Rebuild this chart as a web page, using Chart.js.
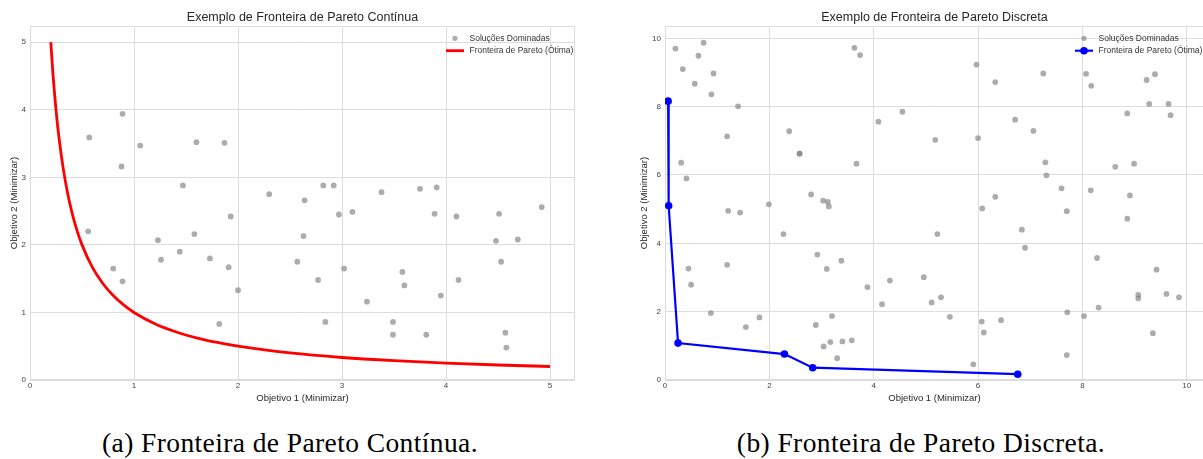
<!DOCTYPE html>
<html>
<head>
<meta charset="utf-8">
<title>Fronteira de Pareto</title>
<script src="https://cdn.jsdelivr.net/npm/chart.js@4.4.1/dist/chart.umd.min.js"></script>
<style>
  html, body { margin: 0; padding: 0; background: #fff; }
  #page { position: relative; width: 1203px; height: 459px; overflow: hidden; }
  .box { position: absolute; top: 0; }
  .caption {
    position: absolute; top: 430px; width: 600px;
    font-family: "Liberation Serif", "Times New Roman", serif;
    font-size: 27.5px; line-height: 26px; letter-spacing: 0.4px; color: #000;
    text-align: center; white-space: nowrap;
  }
</style>
</head>
<body>
<div id="page">
  <div class="box" style="left:0px"><canvas id="contChart" width="600" height="410"></canvas></div>
  <div class="box" style="left:633px"><canvas id="discChart" width="572" height="410"></canvas></div>
  <div class="caption" style="left:-10px">(a) Fronteira de Pareto Contínua.</div>
  <div class="caption" style="left:621px">(b) Fronteira de Pareto Discreta.</div>
</div>
<script>
// (a) fronteira continua
var domX1 = [0.57, 0.89, 0.88, 1.06, 1.47, 1.60, 1.87, 2.30, 0.56, 1.23,
             1.26, 1.44, 1.58, 1.73, 1.93, 1.91, 2.00, 1.82, 0.80, 0.89,
             2.57, 2.64, 2.63, 2.97, 3.10, 3.38, 3.89, 4.10, 4.51, 4.92,
             4.48, 4.69, 2.77, 3.02, 3.58, 3.60, 3.24, 3.95, 4.12, 4.53,
             2.84, 3.49, 3.49, 3.81, 4.57, 4.58, 2.82, 2.92, 3.75, 3.91];
var domY1 = [3.59, 3.94, 3.16, 3.47, 2.88, 3.52, 3.51, 2.75, 2.20, 2.07,
             1.78, 1.90, 2.16, 1.80, 2.42, 1.67, 1.33, 0.83, 1.65, 1.46,
             1.75, 2.66, 2.13, 2.45, 2.49, 2.78, 2.46, 2.42, 2.46, 2.56,
             2.06, 2.08, 1.48, 1.65, 1.60, 1.40, 1.16, 1.25, 1.48, 1.75,
             0.86, 0.86, 0.67, 0.67, 0.70, 0.48, 2.88, 2.88, 2.83, 2.85];
var curveX = [0.20, 0.22, 0.25, 0.28, 0.32, 0.36, 0.40, 0.45, 0.50, 0.60, 0.70, 0.80, 0.90,
              1.00, 1.20, 1.40, 1.60, 1.80, 2.00, 2.50, 3.00, 3.50, 4.00, 4.50, 5.00];
var curveY = [5.000, 4.545, 4.000, 3.571, 3.125, 2.778, 2.500, 2.222, 2.000, 1.667, 1.429, 1.250, 1.111,
              1.000, 0.833, 0.714, 0.625, 0.556, 0.500, 0.400, 0.333, 0.286, 0.250, 0.222, 0.200];
var ticks1 = [0, 1, 2, 3, 4, 5];

// (b) fronteira discreta
var domX2 = [0.20, 0.74, 0.64, 0.34, 0.93, 0.57, 0.89, 1.40, 1.19, 0.31,
             0.41, 2.38, 2.58, 2.58, 3.63, 3.74, 3.67, 4.09, 4.55, 2.80,
             5.97, 6.33, 7.25, 8.07, 8.17, 9.23, 9.39, 9.28, 9.65, 9.69,
             8.86, 6.71, 7.06, 5.18, 6.00, 7.29, 7.31, 8.63, 8.99, 7.60,
             8.16, 8.91, 6.33, 6.08, 7.70, 8.86, 5.22, 6.84, 6.90, 8.28,
             9.42, 4.96, 5.11, 5.29, 9.07, 9.07, 9.61, 9.85, 8.31, 5.46,
             6.07, 6.44, 6.11, 7.71, 8.03, 9.35, 7.70, 5.91, 3.03, 3.12,
             3.14, 1.99, 1.21, 1.44, 2.27, 2.92, 3.10, 3.38, 0.45, 0.50,
             1.19, 0.88, 1.55, 1.81, 2.89, 3.20, 3.04, 3.17, 3.40, 3.58,
             3.30, 3.88, 4.16, 4.31];
var domY2 = [9.70, 9.87, 9.49, 9.10, 8.97, 8.67, 8.36, 8.01, 7.13, 6.36,
             5.90, 7.28, 6.62, 6.63, 9.72, 9.51, 6.33, 7.56, 7.85, 5.43,
             9.23, 8.72, 8.97, 8.96, 8.61, 8.78, 8.95, 8.08, 8.08, 7.75,
             7.80, 7.62, 7.29, 7.03, 7.08, 6.37, 5.99, 6.24, 6.33, 5.61,
             5.55, 5.40, 5.36, 5.02, 4.94, 4.72, 4.27, 4.40, 3.87, 3.57,
             3.23, 3.01, 2.27, 2.42, 2.49, 2.39, 2.52, 2.42, 2.12, 1.85,
             1.71, 1.75, 1.39, 1.98, 1.87, 1.37, 0.73, 0.46, 5.25, 5.21,
             5.08, 5.14, 4.95, 4.90, 4.27, 3.67, 3.25, 3.49, 3.26, 2.79,
             3.37, 1.96, 1.55, 1.83, 1.61, 1.87, 0.98, 1.11, 1.13, 1.16,
             0.64, 2.72, 2.22, 2.91];
var paretoX = [0.06, 0.07, 0.25, 2.29, 2.83, 6.76];
var paretoY = [8.16, 5.10, 1.08, 0.76, 0.36, 0.17];
var ticks2 = [0, 2, 4, 6, 8, 10];

var FONT = '"Liberation Sans", Arial, sans-serif';
var GRID = '#dcdcdc';
var DOT = 'rgba(128,128,128,0.65)';

function pts(xs, ys) {
  return xs.map(function (x, i) { return { x: x, y: ys[i] }; });
}

// moldura dos eixos + legenda dentro da area do grafico (estilo matplotlib)
var frameLegend = {
  id: 'frameLegend',
  beforeDatasetsDraw: function (chart) {
    var a = chart.chartArea, ctx = chart.ctx;
    ctx.save();
    ctx.strokeStyle = GRID;
    ctx.lineWidth = 1;
    ctx.strokeRect(a.left + 0.5, a.top + 0.5, a.width - 1, a.height - 1);
    ctx.restore();
  },
  afterDraw: function (chart) {
    var a = chart.chartArea, ctx = chart.ctx;
    ctx.save();
    ctx.font = '8.5px ' + FONT;
    ctx.textBaseline = 'middle';
    chart.data.datasets.slice().sort(function (p, q) { return q.order - p.order; }).forEach(function (ds, i) {
      var y = a.top + 12.3 + i * 12.4;
      var cx = a.right - 120;
      if (ds.showLine) {
        ctx.strokeStyle = ds.borderColor;
        ctx.lineWidth = ds.borderWidth;
        ctx.beginPath();
        ctx.moveTo(a.right - 129, y);
        ctx.lineTo(a.right - 111, y);
        ctx.stroke();
      }
      if (ds.pointRadius > 0) {
        ctx.fillStyle = ds.backgroundColor;
        ctx.beginPath();
        ctx.arc(cx, y, ds.showLine ? ds.pointRadius : 2.6, 0, Math.PI * 2);
        ctx.fill();
      }
      ctx.fillStyle = '#333';
      ctx.fillText(ds.label, a.right - 105.5, y);
    });
    ctx.restore();
  }
};

function makeChart(id, title, datasets, max, tickList, yWidth, yTitlePad, padRight) {
  return new Chart(document.getElementById(id), {
    type: 'scatter',
    data: { datasets: datasets },
    options: {
      responsive: false,
      animation: false,
      events: [],
      layout: { padding: { left: 0, right: padRight, top: 0, bottom: 0 }, autoPadding: false },
      plugins: {
        legend: { display: false },
        tooltip: { enabled: false },
        title: {
          display: true, text: title, fullSize: false, color: '#262626',
          font: { family: FONT, size: 12.5, weight: 'normal', lineHeight: 1.2 },
          padding: { top: 10, bottom: 1 }
        }
      },
      scales: {
        x: {
          type: 'linear', min: 0, max: max.x,
          afterBuildTicks: function (s) { s.ticks = tickList.map(function (v) { return { value: v }; }); },
          afterFit: function (s) { s.height = 30; },
          grid: { color: GRID, drawTicks: false },
          border: { display: false },
          ticks: { padding: 1, color: '#444', font: { family: FONT, size: 8 } },
          title: {
            display: true, text: 'Objetivo 1 (Minimizar)', color: '#262626',
            font: { family: FONT, size: 9.5 }, padding: { top: 0, bottom: 6.3 }
          }
        },
        y: {
          type: 'linear', min: 0, max: max.y,
          afterBuildTicks: function (s) { s.ticks = tickList.map(function (v) { return { value: v }; }); },
          afterFit: function (s) { s.width = yWidth; },
          grid: { color: GRID, drawTicks: false },
          border: { display: false },
          ticks: { padding: 4, color: '#444', font: { family: FONT, size: 8 } },
          title: {
            display: true, text: 'Objetivo 2 (Minimizar)', color: '#262626',
            font: { family: FONT, size: 9.5 }, padding: { top: yTitlePad, bottom: 0 }
          }
        }
      }
    },
    plugins: [frameLegend]
  });
}

makeChart('contChart', 'Exemplo de Fronteira de Pareto Contínua', [
  {
    label: 'Soluções Dominadas', data: pts(domX1, domY1), order: 1,
    backgroundColor: DOT, borderWidth: 0, pointRadius: 2.9
  },
  {
    label: 'Fronteira de Pareto (Ótima)', data: pts(curveX, curveY), order: 0,
    showLine: true, borderColor: '#ff0000', borderWidth: 2.8, pointRadius: 0,
    cubicInterpolationMode: 'monotone'
  }
], { x: 5.24, y: 5.24 }, ticks1, 30, 8.3, 25);

makeChart('discChart', 'Exemplo de Fronteira de Pareto Discreta', [
  {
    label: 'Soluções Dominadas', data: pts(domX2, domY2), order: 1,
    backgroundColor: DOT, borderWidth: 0, pointRadius: 2.9
  },
  {
    label: 'Fronteira de Pareto (Ótima)', data: pts(paretoX, paretoY), order: 0,
    showLine: true, borderColor: '#0000ff', borderWidth: 2.2,
    backgroundColor: '#0000ff', pointRadius: 3.8, pointBorderWidth: 0
  }
], { x: 10.33, y: 10.36 }, ticks2, 32, 5.3, 1);
</script>
</body>
</html>
